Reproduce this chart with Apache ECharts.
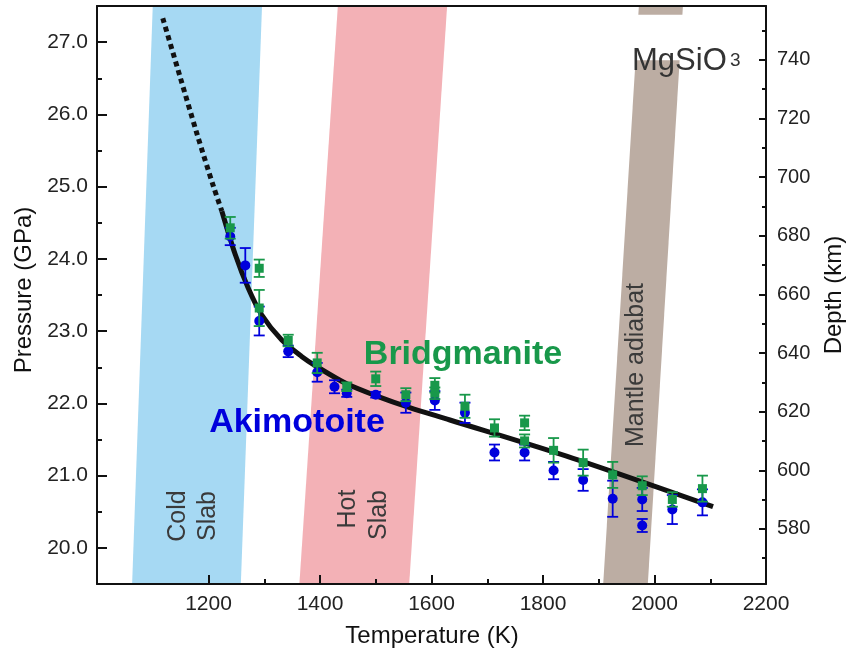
<!DOCTYPE html>
<html>
<head>
<meta charset="utf-8">
<script src="https://cdn.jsdelivr.net/npm/echarts@6/dist/echarts.min.js"></script>
<style>
html,body{margin:0;padding:0;background:#fff;}
#chart{width:848px;height:654px;}
</style>
</head>
<body>
<div id="chart"></div>
<script>
// ---- Data ----
const xMajor = [1200, 1400, 1600, 1800, 2000, 2200];
const xMinor = [1300, 1500, 1700, 1900, 2100];
const pMajor = [20, 21, 22, 23, 24, 25, 26, 27];
const pMinor = [20.5, 21.5, 22.5, 23.5, 24.5, 25.5, 26.5];
const depthMajor = [580, 600, 620, 640, 660, 680, 700, 720, 740];
const depthMinor = [570, 590, 610, 630, 650, 670, 690, 710, 730, 750];

// Bands: temperatures of [left, right] edges at bottom (19.5 GPa) and top (27.5 GPa)
const coldSlabBottom = [1063, 1258];
const coldSlabTop = [1100, 1296];
const hotSlabBottom = [1363, 1560];
const hotSlabTop = [1432, 1628];
const mantleBottom = [1908, 1988];
const mantleTop = [1972, 2051];
const mantleGap = [26.75, 27.38]; // pressure interval hidden behind the MgSiO3 label

// Phase boundary curve [T (K), P (GPa)]
const curveDotted = [[1118, 27.33], [1149, 26.52], [1179, 25.74], [1209, 25.0], [1224, 24.66]];
const curveSolid = [[1224, 24.66], [1248, 24.06], [1271, 23.60], [1295, 23.23], [1331, 22.88],
  [1367, 22.65], [1394, 22.51], [1448, 22.27], [1502, 22.10], [1561, 21.94], [1633, 21.77],
  [1854, 21.24], [2105, 20.57]];

// Akimotoite [T, P, error]
const akimotoite = [
  [1239, 24.31, 0.12], [1266, 23.91, 0.24], [1291, 23.14, 0.20], [1343, 22.72, 0.08],
  [1395, 22.43, 0.13], [1426, 22.23, 0.09], [1448, 22.14, 0.05], [1500, 22.12, 0.04],
  [1554, 22.01, 0.14], [1606, 22.04, 0.13], [1660, 21.87, 0.14], [1713, 21.32, 0.11],
  [1767, 21.32, 0.11], [1819, 21.07, 0.12], [1872, 20.94, 0.15], [1925, 20.68, 0.25],
  [1978, 20.67, 0.16], [1978, 20.31, 0.09], [2032, 20.53, 0.20], [2086, 20.63, 0.18]
];
// Bridgmanite [T, P, error]
const bridgmanite = [
  [1239, 24.43, 0.15], [1291, 23.87, 0.12], [1291, 23.32, 0.25], [1343, 22.87, 0.08],
  [1395, 22.56, 0.14], [1448, 22.23, 0.06], [1500, 22.34, 0.10], [1554, 22.12, 0.09],
  [1606, 22.25, 0.10], [1606, 22.14, 0.08], [1660, 21.96, 0.16], [1713, 21.66, 0.12],
  [1767, 21.73, 0.10], [1767, 21.48, 0.09], [1819, 21.35, 0.17], [1872, 21.18, 0.18],
  [1925, 21.01, 0.18], [1978, 20.86, 0.13], [2032, 20.67, 0.10], [2086, 20.82, 0.18]
];

// ---- Build ----
const P0 = 19.5, P1 = 27.5;
function edgeT(bottom, top, p, k) { return bottom[k] + (top[k] - bottom[k]) * (p - P0) / (P1 - P0); }
function bandPoly(bottom, top, pa, pb) {
  return [[edgeT(bottom, top, pa, 0), pa], [edgeT(bottom, top, pa, 1), pa],
          [edgeT(bottom, top, pb, 1), pb], [edgeT(bottom, top, pb, 0), pb]];
}
const bandPolys = [
  {pts: bandPoly(coldSlabBottom, coldSlabTop, P0, P1), color: '#a6d9f3'},
  {pts: bandPoly(hotSlabBottom, hotSlabTop, P0, P1), color: '#f3b1b6'},
  {pts: bandPoly(mantleBottom, mantleTop, P0, mantleGap[0]), color: '#bcada3'},
  {pts: bandPoly(mantleBottom, mantleTop, mantleGap[1], P1), color: '#bcada3'}
];

const FONT = 'Arial, "Liberation Sans", Helvetica, sans-serif';
const BLUE = '#0000dc';
const GREEN = '#18984a';

function errRender(color) {
  return function (params, api) {
    const t = api.value(0), p = api.value(1), e = api.value(2);
    const a = api.coord([t, p + e]), b = api.coord([t, p - e]);
    const w = 5.5;
    const st = {stroke: color, lineWidth: 1.8};
    return {type: 'group', children: [
      {type: 'line', shape: {x1: a[0], y1: a[1], x2: b[0], y2: b[1]}, style: st},
      {type: 'line', shape: {x1: a[0] - w, y1: a[1], x2: a[0] + w, y2: a[1]}, style: st},
      {type: 'line', shape: {x1: b[0] - w, y1: b[1], x2: b[0] + w, y2: b[1]}, style: st}
    ]};
  };
}

const axisLineStyle = {color: '#111', width: 2};
const chart = echarts.init(document.getElementById('chart'), null, {renderer: 'canvas'});
const option = {
  animation: false,
  backgroundColor: '#fff',
  grid: {left: 97, right: 82, top: 6, bottom: 70, containLabel: false},
  xAxis: [
    {type: 'value', min: 1000, max: 2200, position: 'bottom', z: 10,
      axisLine: {show: true, lineStyle: axisLineStyle},
      axisTick: {show: true, inside: true, length: 9, customValues: xMajor, lineStyle: {color: '#111', width: 2}},
      axisLabel: {show: true, customValues: xMajor, fontSize: 21, fontFamily: FONT, color: '#222', margin: 10,
        formatter: v => String(Math.round(v))},
      splitLine: {show: false}},
    {type: 'value', min: 1000, max: 2200, position: 'bottom', z: 10,
      axisLine: {show: false},
      axisTick: {show: true, inside: true, length: 5, customValues: xMinor, lineStyle: {color: '#111', width: 2}},
      axisLabel: {show: false}, splitLine: {show: false}},
    {type: 'value', min: 1000, max: 2200, position: 'top', z: 10,
      axisLine: {show: true, lineStyle: axisLineStyle},
      axisTick: {show: false}, axisLabel: {show: false}, splitLine: {show: false}}
  ],
  yAxis: [
    {type: 'value', min: P0, max: P1, position: 'left', z: 10,
      axisLine: {show: true, lineStyle: axisLineStyle},
      axisTick: {show: true, inside: true, length: 10, customValues: pMajor, lineStyle: {color: '#111', width: 2}},
      axisLabel: {show: true, customValues: pMajor, fontSize: 21, fontFamily: FONT, color: '#222', margin: 9,
        formatter: v => Number(v).toFixed(1)},
      splitLine: {show: false}},
    {type: 'value', min: P0, max: P1, position: 'left', z: 10,
      axisLine: {show: false},
      axisTick: {show: true, inside: true, length: 5, customValues: pMinor, lineStyle: {color: '#111', width: 2}},
      axisLabel: {show: false}, splitLine: {show: false}},
    {type: 'value', min: 561.2, max: 758.4, position: 'right', z: 10,
      axisLine: {show: true, lineStyle: axisLineStyle},
      axisTick: {show: true, inside: true, length: 7, customValues: depthMajor, lineStyle: {color: '#111', width: 2}},
      axisLabel: {show: true, customValues: depthMajor, fontSize: 20, fontFamily: FONT, color: '#222', margin: 11,
        formatter: v => String(Math.round(v))},
      splitLine: {show: false}},
    {type: 'value', min: 561.2, max: 758.4, position: 'right', z: 10,
      axisLine: {show: false},
      axisTick: {show: true, inside: true, length: 4, customValues: depthMinor, lineStyle: {color: '#111', width: 2}},
      axisLabel: {show: false}, splitLine: {show: false}}
  ],
  series: [
    {type: 'custom', name: 'bands', z: 1, silent: true, clip: true,
      data: bandPolys.map((b, i) => [i]),
      renderItem: function (params, api) {
        const b = bandPolys[params.dataIndex];
        return {type: 'polygon', shape: {points: b.pts.map(p => api.coord(p))}, style: {fill: b.color}};
      }},
    {type: 'line', name: 'extrapolated', z: 3, data: curveDotted, smooth: 0.3, showSymbol: false,
      lineStyle: {color: '#111', width: 5, type: [5, 4], cap: 'butt'}},
    {type: 'line', name: 'boundary', z: 3, data: curveSolid, smooth: 0.3, showSymbol: false,
      lineStyle: {color: '#111', width: 5}},
    {type: 'custom', name: 'akiErr', z: 4, data: akimotoite, renderItem: errRender(BLUE)},
    {type: 'scatter', name: 'Akimotoite', z: 5, data: akimotoite.map(d => [d[0], d[1]]),
      symbol: 'circle', symbolSize: 10, itemStyle: {color: BLUE, opacity: 1}},
    {type: 'custom', name: 'bdgErr', z: 6, data: bridgmanite, renderItem: errRender(GREEN)},
    {type: 'scatter', name: 'Bridgmanite', z: 7, data: bridgmanite.map(d => [d[0], d[1]]),
      symbol: 'rect', symbolSize: 9, itemStyle: {color: GREEN, opacity: 1}}
  ],
  graphic: [
    {type: 'text', x: 24, y: 290, rotation: Math.PI / 2, z: 20,
      style: {text: 'Pressure (GPa)', fontSize: 24, fontFamily: FONT, fill: '#111', align: 'center', verticalAlign: 'middle'}},
    {type: 'text', x: 834, y: 295, rotation: Math.PI / 2, z: 20,
      style: {text: 'Depth (km)', fontSize: 24, fontFamily: FONT, fill: '#111', align: 'center', verticalAlign: 'middle'}},
    {type: 'text', x: 432, y: 636, z: 20,
      style: {text: 'Temperature (K)', fontSize: 24, fontFamily: FONT, fill: '#111', align: 'center', verticalAlign: 'middle'}},
    {type: 'text', x: 178, y: 516, rotation: Math.PI / 2, z: 20,
      style: {text: 'Cold', fontSize: 25, fontFamily: FONT, fill: '#3a3a3a', align: 'center', verticalAlign: 'middle'}},
    {type: 'text', x: 208, y: 516, rotation: Math.PI / 2, z: 20,
      style: {text: 'Slab', fontSize: 25, fontFamily: FONT, fill: '#3a3a3a', align: 'center', verticalAlign: 'middle'}},
    {type: 'text', x: 348, y: 509, rotation: Math.PI / 2, z: 20,
      style: {text: 'Hot', fontSize: 25, fontFamily: FONT, fill: '#3a3a3a', align: 'center', verticalAlign: 'middle'}},
    {type: 'text', x: 379, y: 515, rotation: Math.PI / 2, z: 20,
      style: {text: 'Slab', fontSize: 25, fontFamily: FONT, fill: '#3a3a3a', align: 'center', verticalAlign: 'middle'}},
    {type: 'text', x: 636, y: 365, rotation: Math.PI / 2, z: 20,
      style: {text: 'Mantle adiabat', fontSize: 25, fontFamily: FONT, fill: '#3a3a3a', align: 'center', verticalAlign: 'middle'}},
    {type: 'text', x: 632, y: 46, z: 20,
      style: {text: 'MgSiO', fontSize: 31, fontFamily: FONT, fill: '#333', align: 'left', verticalAlign: 'alphabetic'}},
    {type: 'text', x: 730, y: 51, z: 20,
      style: {text: '3', fontSize: 19, fontFamily: FONT, fill: '#333', align: 'left', verticalAlign: 'alphabetic'}},
    {type: 'text', x: 463, y: 355, z: 20,
      style: {text: 'Bridgmanite', fontSize: 34, fontWeight: 'bold', fontFamily: FONT, fill: GREEN, align: 'center', verticalAlign: 'middle'}},
    {type: 'text', x: 297, y: 423, z: 20,
      style: {text: 'Akimotoite', fontSize: 34, fontWeight: 'bold', fontFamily: FONT, fill: BLUE, align: 'center', verticalAlign: 'middle'}}
  ]
};
chart.setOption(option);
</script>
</body>
</html>
